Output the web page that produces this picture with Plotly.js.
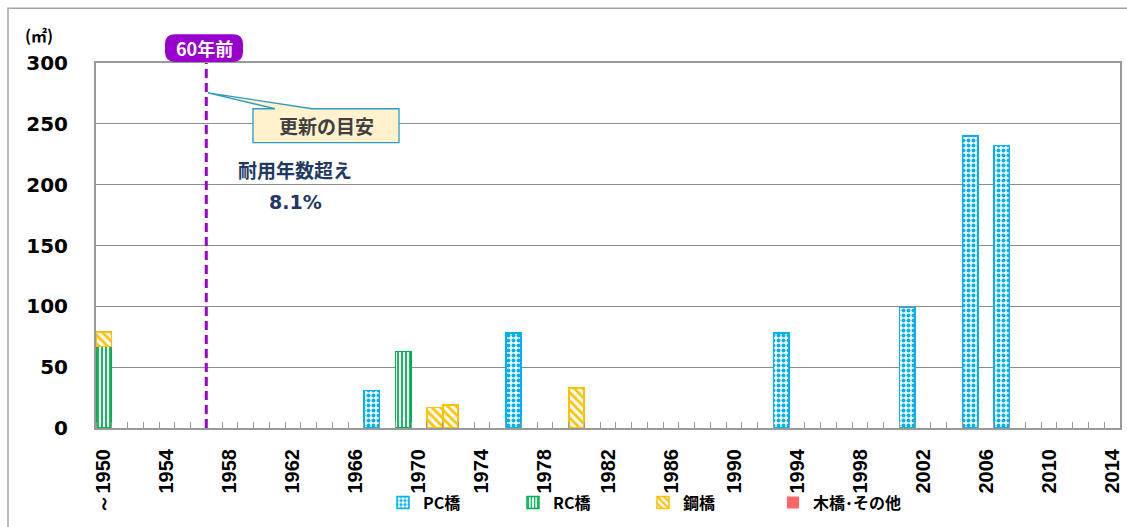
<!DOCTYPE html>
<html><head><meta charset="utf-8">
<script src="https://cdn.plot.ly/plotly-3.0.1.min.js"></script>
<style>html,body{margin:0;padding:0;background:#fff}#chart{width:1127px;height:527px}</style>
</head><body><div id="chart"></div>
<script>
const categories = ["～1950","1951","1952","1953","1954","1955","1956","1957","1958","1959",
  "1960","1961","1962","1963","1964","1965","1966","1967","1968","1969",
  "1970","1971","1972","1973","1974","1975","1976","1977","1978","1979",
  "1980","1981","1982","1983","1984","1985","1986","1987","1988","1989",
  "1990","1991","1992","1993","1994","1995","1996","1997","1998","1999",
  "2000","2001","2002","2003","2004","2005","2006","2007","2008","2009",
  "2010","2011","2012","2013","2014"];
const tickLabels = ["～1950","1954","1958","1962","1966","1970","1974","1978","1982","1986","1990","1994","1998","2002","2006","2010","2014"];
const pcYears = ["1967","1976","1993","2001","2005","2007"];
const pcValues = [31,78,78,99,240,232];
const rcYears = ["～1950","1969"];
const rcValues = [67,63];
const steelYears = ["～1950","1971","1972","1980"];
const steelValues = [12,17,19,33];
const woodYears = ["～1950"];
const woodValues = [0];
const yTicks = [0,50,100,150,200,250,300];
const seriesNames = ["PC橋","RC橋","鋼橋","木橋･その他"];

const idx = ys => ys.map(y => categories.indexOf(y));
const L=96, R=1120, T=63, B=430;
const px = p => (p-L)/(R-L);
const py = p => (B-p)/(B-T);

function bar(name, years, vals, shape, fg, bg, size, sol, lw){
  const pattern = shape ? {shape:shape, fgcolor:fg, bgcolor:bg, size:size, solidity:sol, fillmode:'replace'} : {shape:''};
  return {type:'bar', name:name, x:idx(years), y:vals,
    marker:{color:bg, line:{color:fg, width:lw}, pattern:pattern},
    hoverinfo:'skip'};
}
const data = [
  bar(seriesNames[0], pcYears, pcValues, '.', '#00B0F0', '#ffffff', 5, 0.5, 1.5),
  bar(seriesNames[1], rcYears, rcValues, '|', '#00B050', '#ffffff', 4, 0.45, 1.5),
  bar(seriesNames[2], steelYears, steelValues, '\\', '#FFC000', '#ffffff', 6, 0.45, 1.5),
  bar(seriesNames[3], woodYears, woodValues, '', '#FF6666', '#FF6666', 6, 0.2, 0)
];

function rounded(x0,y0,x1,y1,r){
  const rx=r/(R-L), ry=r/(B-T);
  const a=px(x0), b=px(x1), c=py(y1), d=py(y0);
  return `M${a+rx},${d} L${b-rx},${d} Q${b},${d} ${b},${d-ry} L${b},${c+ry} Q${b},${c} ${b-rx},${c} L${a+rx},${c} Q${a},${c} ${a},${c+ry} L${a},${d-ry} Q${a},${d} ${a+rx},${d} Z`;
}
const callout = `M${px(253)},${py(109)} L${px(275)},${py(109)} L${px(208)},${py(93)} L${px(312)},${py(109)} L${px(399)},${py(109)} L${px(399)},${py(143)} L${px(253)},${py(143)} Z`;

const jp = '"Noto Sans CJK JP", sans-serif';
const layout = {
  width:1127, height:527,
  margin:{l:L, r:1127-R, t:T, b:527-B, pad:0},
  paper_bgcolor:'#ffffff', plot_bgcolor:'#ffffff',
  barmode:'stack', bargap:0.03,
  showlegend:true,
  legend:{orientation:'h', x:px(383), xanchor:'left', y:py(505), yanchor:'middle',
    entrywidth:85, entrywidthmode:'pixels', traceorder:'normal',
    font:{family:jp, size:16, color:'#000', weight:700}, bgcolor:'rgba(0,0,0,0)'},
  xaxis:{type:'linear', range:[-0.5, categories.length-0.5], autorange:false,
    tickmode:'array', tickvals:idx(tickLabels), ticktext:tickLabels, tickangle:-90,
    ticks:'', ticklabelstandoff:11,
    tickfont:{family:'"Liberation Sans Narrow", "Liberation Sans", Arial, sans-serif', size:20, color:'#000', weight:700},
    showgrid:false, zeroline:false, showline:true, linecolor:'#999999', linewidth:2, mirror:true,
    minor:{ticks:'inside', tickmode:'linear', tick0:0.5, dtick:1, ticklen:6, tickcolor:'#999999', tickwidth:1, showgrid:false}},
  yaxis:{range:[0,300], autorange:false, tickmode:'array', tickvals:yTicks,
    ticks:'', ticklabelstandoff:22,
    tickfont:{family:'"DejaVu Sans", Verdana, sans-serif', size:20, color:'#000', weight:700},
    showgrid:true, gridcolor:'#8C8C8C', gridwidth:1, zeroline:false,
    showline:true, linecolor:'#999999', linewidth:2, mirror:true},
  shapes:[
    {type:'rect', xref:'paper', yref:'paper', x0:px(8), x1:px(1300), y0:py(700), y1:py(8),
      line:{color:'#A6A6A6', width:1.5}, fillcolor:'rgba(0,0,0,0)', layer:'below'},
    {type:'line', xref:'x', yref:'paper', x0:6.5, x1:6.5, y0:0, y1:1,
      line:{color:'#9900CC', width:3, dash:'9px,5px'}},
    {type:'path', xref:'paper', yref:'paper', path:rounded(165,34,243,62,10),
      fillcolor:'#9900CC', line:{width:0}},
    {type:'path', xref:'paper', yref:'paper', path:callout,
      fillcolor:'#FFF2CC', line:{color:'#2E9AC4', width:1.3}}
  ],
  annotations:[
    {xref:'paper', yref:'paper', x:px(204), y:py(48), text:'60年前', showarrow:false,
      font:{family:jp, size:18, color:'#ffffff', weight:700}, xanchor:'center', yanchor:'middle'},
    {xref:'paper', yref:'paper', x:px(326), y:py(126), text:'更新の目安', showarrow:false,
      font:{family:jp, size:19, color:'#404040', weight:700}, xanchor:'center', yanchor:'middle'},
    {xref:'paper', yref:'paper', x:px(295), y:py(170), text:'耐用年数超え', showarrow:false,
      font:{family:jp, size:19, color:'#1F3864', weight:700}, xanchor:'center', yanchor:'middle'},
    {xref:'paper', yref:'paper', x:px(295), y:py(203), text:'8.1%', showarrow:false,
      font:{family:'"DejaVu Sans", Verdana, sans-serif', size:19, color:'#1F3864', weight:700}, xanchor:'center', yanchor:'middle'},
    {xref:'paper', yref:'paper', x:px(39), y:py(35), text:'(㎡)', showarrow:false,
      font:{family:jp, size:16, color:'#000', weight:700}, xanchor:'center', yanchor:'middle'}
  ]
};
Plotly.newPlot('chart', data, layout, {displayModeBar:false, staticPlot:true});
</script></body></html>
